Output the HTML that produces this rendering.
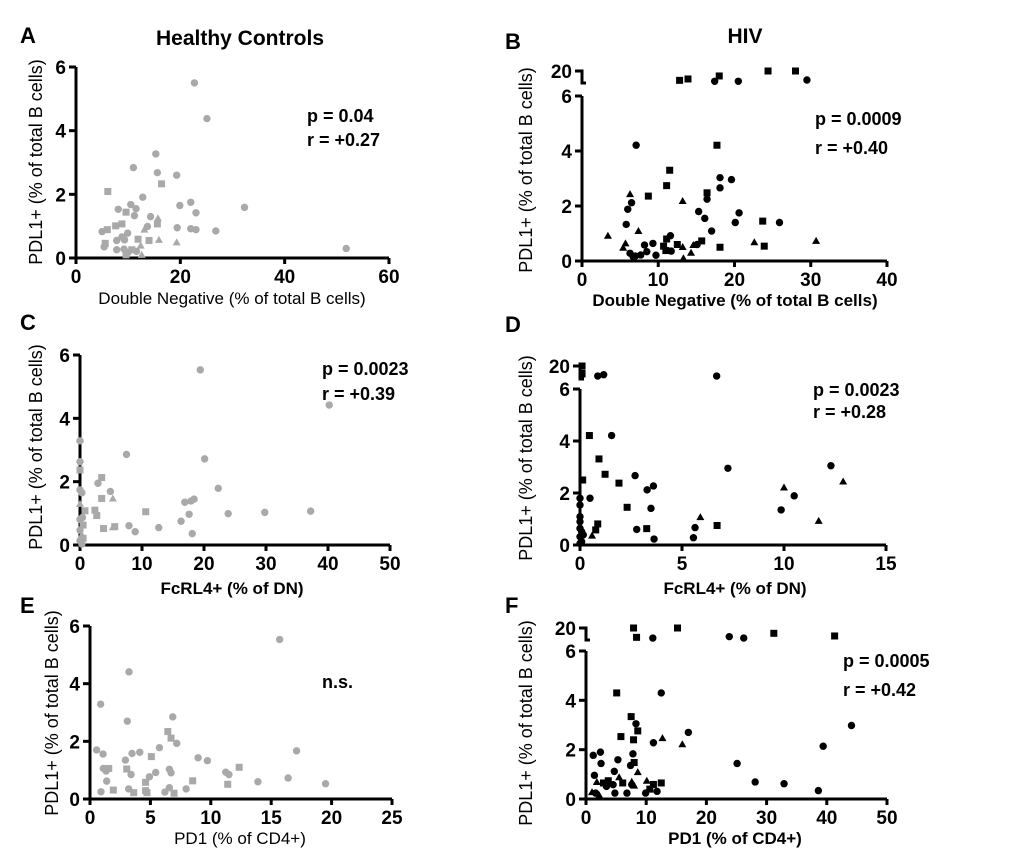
<!DOCTYPE html>
<html><head><meta charset="utf-8"><style>
body{margin:0;background:#fff}
svg text{font-family:"Liberation Sans",Arial,sans-serif}
</style></head><body>
<svg id="fig" width="1020" height="860" viewBox="0 0 1020 860" xmlns="http://www.w3.org/2000/svg">
<g font-size="22" font-weight="bold" fill="#000">
<text x="20" y="43">A</text>
<text x="505" y="49">B</text>
<text x="20" y="330">C</text>
<text x="505" y="332">D</text>
<text x="20" y="613">E</text>
<text x="505" y="613">F</text>
</g>
<text x="240" y="45" font-size="21" font-weight="bold" text-anchor="middle">Healthy Controls</text>
<text x="745" y="43" font-size="21" font-weight="bold" text-anchor="middle">HIV</text>
</svg>
<script>
// Panel A data (Healthy, DN)
const aX=[22.7,25.1,15.3,11.0,15.6,19.3,6.1,16.4,12.8,22.0,19.9,32.3,10.5,11.5,8.1,9.6,23.0,14.3,11.2,15.7,15.6,13.7,13.1,19.4,22.0,23.0,26.8,5.0,6.0,7.6,8.8,9.9,7.8,8.8,9.3,11.9,14.0,15.9,19.3,5.6,5.4,7.8,12.4,9.2,10.7,11.6,9.6,12.6,51.8,10.0];
const aY=[5.5,4.38,3.27,2.84,2.68,2.6,2.09,2.33,1.91,1.75,1.65,1.59,1.68,1.55,1.53,1.44,1.42,1.3,1.33,1.25,1.07,0.99,0.89,0.95,0.92,0.89,0.85,0.83,0.89,1.01,1.07,0.78,0.55,0.66,0.57,0.59,0.55,0.57,0.49,0.46,0.35,0.26,0.39,0.28,0.26,0.21,0.1,0.1,0.3,0.18];
const aS=['c','c','c','c','c','c','s','s','c','c','c','c','c','c','c','s','c','c','c','t','s','c','t','c','c','c','c','c','s','s','s','c','c','c','c','s','s','t','t','s','c','c','t','c','s','c','s','t','c','c'];
// Panel B data (HIV, DN)
const bX=[12.8,13.9,17.4,18.0,20.5,24.4,28.0,29.5,7.1,17.7,11.5,18.1,19.6,11.1,18.1,16.4,6.3,8.7,16.4,13.2,6.5,6.0,15.3,20.6,16.1,23.7,20.1,25.9,5.8,17.0,7.4,11.6,11.1,3.4,22.6,30.7,15.7,15.1,8.2,9.3,5.7,12.5,14.6,10.7,18.1,23.9,13.2,5.4,11.7,11.0,8.5,6.3,7.7,9.7,6.7,14.3,13.3,7.0];
const bY=[9.1,10.7,8,14.2,8,20,20,9.5,4.21,4.21,3.30,3.03,2.96,2.74,2.66,2.48,2.43,2.36,2.25,2.18,2.12,1.88,1.8,1.75,1.55,1.45,1.40,1.40,1.33,1.09,1.09,0.92,0.8,0.92,0.68,0.73,0.73,0.6,0.58,0.64,0.64,0.6,0.58,0.54,0.50,0.54,0.51,0.48,0.36,0.38,0.34,0.28,0.22,0.21,0.16,0.30,0.10,0.18];
const bS=['s','s','c','s','c','s','s','c','c','s','s','c','c','s','c','s','t','s','c','t','c','c','c','c','c','s','c','c','c','c','t','c','s','t','t','t','s','c','c','c','t','s','t','s','s','s','t','t','c','s','c','c','c','c','c','t','t','c'];
// Panel C data (Healthy, FcRL4)
const cX=[19.4,40.2,0,7.5,20.1,0,0,3.5,2.9,22.3,0,0.3,4.9,3.5,5.3,18.4,17.9,16.9,0.8,2.4,10.6,37.2,29.8,23.9,17.6,2.7,0.4,0,16.3,0.5,7.9,5.6,5.3,12.7,3.8,8.9,18.1,0,0.3,0.5,0,0.3,0];
const cY=[5.53,4.42,3.29,2.86,2.72,2.63,2.37,2.13,1.95,1.79,1.74,1.65,1.69,1.47,1.47,1.45,1.39,1.35,1.08,1.1,1.05,1.07,1.03,0.99,0.97,0.93,0.87,0.81,0.75,0.63,0.61,0.58,0.56,0.55,0.52,0.42,0.36,0.47,0.32,0.21,0.14,0.03,1.3];
const cS=['c','c','c','c','c','c','s','s','c','c','c','c','c','s','t','c','c','c','s','s','s','c','c','c','c','s','c','c','c','s','c','s','t','c','s','c','c','c','t','s','c','c','t'];
// Panel D data (HIV, FcRL4)
const dX=[0.1,0.1,0.1,0.87,1.16,6.7,0.46,1.55,0.93,1.23,7.25,12.3,12.9,0.13,2.7,1.91,3.6,3.29,10.0,10.5,0.49,0,0,2.31,3.48,9.86,0,5.9,11.7,0,6.72,0.87,0.77,2.78,3.27,5.64,0,0.08,0.59,0,5.56,3.63,0.08,0,0.16];
const dY=[20,12.1,11.4,9.2,10.6,9.2,4.21,4.21,3.31,2.72,2.95,3.05,2.44,2.5,2.67,2.38,2.27,2.12,2.21,1.89,1.8,1.8,1.54,1.45,1.41,1.35,1.09,1.07,0.93,0.9,0.75,0.81,0.58,0.6,0.63,0.67,0.64,0.51,0.36,0.32,0.28,0.23,0.13,0.06,0.39];
const dS=['s','s','s','c','c','c','s','c','s','s','c','c','t','s','c','s','c','c','t','c','c','c','c','s','c','c','c','t','t','c','s','s','s','c','s','c','c','c','t','c','c','c','c','c','c'];
// Panel E data (Healthy, PD1)
const eX=[15.7,3.23,0.88,3.09,6.85,6.44,6.71,7.18,0.55,1.08,3.48,4.12,5.08,5.75,8.95,9.72,2.93,17.1,1.1,1.55,1.33,3.04,12.35,6.57,5.44,3.4,4.92,6.71,11.24,11.5,1.38,8.5,4.6,13.9,16.4,19.5,11.4,7.96,1.93,3.2,6.57,0.91,3.62,4.6,4.72,6.2,6.96];
const eY=[5.53,4.41,3.29,2.7,2.85,2.34,2.11,1.93,1.70,1.56,1.58,1.62,1.47,1.78,1.43,1.33,1.35,1.67,1.06,1.06,0.97,1.04,1.10,1.03,0.92,0.85,0.77,0.91,0.93,0.85,0.62,0.63,0.58,0.6,0.73,0.53,0.51,0.35,0.31,0.35,0.39,0.25,0.22,0.29,0.22,0.24,0.2];
const eS=['c','c','c','c','c','s','s','c','c','c','c','c','s','c','c','c','c','c','c','s','c','s','s','c','c','c','c','c','c','c','c','s','s','c','c','c','s','c','s','c','c','c','s','s','s','c','s'];
// Panel F data (HIV, PD1)
const fX=[7.9,8.4,11.1,15.2,23.8,26.2,31.2,41.3,5.1,12.5,7.5,8.3,8.6,44.1,17.0,5.8,7.9,12.7,11.2,16.0,39.4,2.4,1.2,7.8,5.3,8.0,2.5,7.4,25.1,8.6,4.7,1.4,5.5,7.6,10.1,28.1,32.9,12.5,3.7,1.8,2.9,6.1,11.2,7.6,4.5,3.4,1.0,1.6,4.8,6.8,9.9,11.8,8.0,38.6,2.2,10.6];
const fY=[20,9.1,8.3,20,9.9,8.3,13.8,10.7,4.3,4.3,3.34,3.05,2.76,2.98,2.7,2.53,2.4,2.47,2.28,2.22,2.14,1.9,1.77,1.83,1.59,1.48,1.44,1.36,1.44,1.09,1.12,0.96,0.88,0.7,0.74,0.69,0.62,0.65,0.74,0.69,0.65,0.65,0.59,0.58,0.58,0.51,0.28,0.24,0.24,0.24,0.24,0.31,0.54,0.34,0.15,0.40];
const fS=['s','s','c','s','c','c','s','s','s','c','s','c','s','c','c','s','s','t','c','t','c','c','c','c','c','s','c','c','c','t','c','c','t','t','t','c','c','s','s','t','s','s','s','c','c','c','t','c','c','c','c','c','t','c','t','s'];

const NS="http://www.w3.org/2000/svg";
const svg=document.getElementById('fig');
function mk(tag,attrs,parent){const e=document.createElementNS(NS,tag);for(const k in attrs)e.setAttribute(k,attrs[k]);(parent||svg).appendChild(e);return e;}

const panels=[
 {id:'a',xs:aX,ys:aY,sh:aS,color:'#a9a9a9',x0:76,x1:389,xmax:60,xt:[0,20,40,60],y0:258,y6:67,brk:null,xl:'Double Negative (%  of total B cells)',xlb:false,xly:304,xlx:232,ylx:42,yly:162,ylab:'PDL1+ (% of total B cells)',st:['p = 0.04','r = +0.27'],sx:307,sy:[122,146]},
 {id:'b',xs:bX,ys:bY,sh:bS,color:'#000',x0:582,x1:887,xmax:40,xt:[0,10,20,30,40],y0:261,y6:96,brk:{y20:71,yb:83},xl:'Double Negative (% of total B cells)',xlb:true,xly:306,xlx:735,ylx:532,yly:170,ylab:'PDL1+ (% of total  B cells)',st:['p = 0.0009','r = +0.40'],sx:815,sy:[125,154]},
 {id:'c',xs:cX,ys:cY,sh:cS,color:'#a9a9a9',x0:80,x1:390,xmax:50,xt:[0,10,20,30,40,50],y0:545,y6:355,brk:null,xl:'FcRL4+  (% of  DN)',xlb:true,xly:594,xlx:232,ylx:42,yly:447,ylab:'PDL1+ (% of total B cells)',st:['p = 0.0023','r = +0.39'],sx:322,sy:[375,400]},
 {id:'d',xs:dX,ys:dY,sh:dS,color:'#000',x0:580,x1:886,xmax:15,xt:[0,5,10,15],y0:545,y6:389,brk:{y20:366,yb:379},xl:'FcRL4+  (% of  DN)',xlb:true,xly:594,xlx:735,ylx:532,yly:458,ylab:'PDL1+ (% of total B cells)',st:['p = 0.0023','r = +0.28'],sx:813,sy:[396,418]},
 {id:'e',xs:eX,ys:eY,sh:eS,color:'#a9a9a9',x0:90,x1:392,xmax:25,xt:[0,5,10,15,20,25],y0:799,y6:626,brk:null,xl:'PD1 (%  of CD4+)',xlb:false,xly:844,xlx:240,ylx:58,yly:713,ylab:'PDL1+ (% of total B cells)',st:['n.s.'],sx:322,sy:[688]},
 {id:'f',xs:fX,ys:fY,sh:fS,color:'#000',x0:586,x1:887,xmax:50,xt:[0,10,20,30,40,50],y0:799,y6:651,brk:{y20:628,yb:640},xl:'PD1 (% of CD4+)',xlb:true,xly:844,xlx:735,ylx:532,yly:723,ylab:'PDL1+ (% of total B cells)',st:['p = 0.0005','r = +0.42'],sx:843,sy:[667,696]}
];

panels.forEach(p=>{
 const g=mk('g',{});
 
 
 const xS=v=>p.x0+v/p.xmax*(p.x1-p.x0);
 const yS=v=>{ if(v<=6||!p.brk) return p.y0-v/6*(p.y0-p.y6); return p.brk.yb-(v-6)/14*(p.brk.yb-p.brk.y20); };
 const ax=mk('path',{d:`M${p.x0},${p.y6} V${p.y0} H${p.x1}`,stroke:'#000','stroke-width':3,fill:'none'},g);
 
 
 [0,2,4,6].forEach(t=>{
  mk('line',{x1:p.x0-7,x2:p.x0,y1:yS(t),y2:yS(t),stroke:'#000','stroke-width':3},g);
  const tl=mk('text',{x:p.x0-10,y:yS(t)+7,'font-size':19,'font-weight':'bold','text-anchor':'end'},g);
  tl.textContent=t;
  
  
 });
 if(p.brk){
  mk('path',{d:`M${p.x0-7},${p.brk.y20} H${p.x0} V${p.brk.yb} H${p.x0+4}`,stroke:'#000','stroke-width':3,fill:'none'},g);
  const tl=mk('text',{x:p.x0-10,y:p.brk.y20+7,'font-size':19,'font-weight':'bold','text-anchor':'end'},g);
  tl.textContent='20';
  
  
 }
 p.xt.forEach(t=>{
  mk('line',{x1:xS(t),x2:xS(t),y1:p.y0,y2:p.y0+6,stroke:'#000','stroke-width':3},g);
  const tl=mk('text',{x:xS(t),y:p.y0+25,'font-size':19,'font-weight':'bold','text-anchor':'middle'},g);
  tl.textContent=t;
  
  
 });
 const xl=mk('text',{x:p.xlx,y:p.xly,'font-size':17,'font-weight':p.xlb?'bold':'normal','text-anchor':'middle','xml:space':'preserve'},g);
 xl.textContent=p.xl;
 
 
 const yl=mk('text',{x:0,y:0,'font-size':18,'text-anchor':'middle',transform:`translate(${p.ylx},${p.yly}) rotate(-90)`},g);
 yl.textContent=p.ylab;
 
 
 p.st.forEach((s,i)=>{
  const t=mk('text',{x:p.sx,y:p.sy[i],'font-size':18,'font-weight':'bold'},g);
  t.textContent=s;
  
  
 });
 p.xs.forEach((xv,i)=>{
  const cx=xS(xv), cy=yS(p.ys[i]); const s=p.sh[i]||'c'; let m;
  if(s==='s') m=mk('rect',{x:cx-3.5,y:cy-3.5,width:7,height:7,fill:p.color},g);
  else if(s==='t') m=mk('path',{d:`M${cx},${cy-4} L${cx+4},${cy+3} L${cx-4},${cy+3}Z`,fill:p.color},g);
  else m=mk('circle',{cx:cx,cy:cy,r:3.7,fill:p.color},g);
  
  
 });
});
</script>
</body></html>
